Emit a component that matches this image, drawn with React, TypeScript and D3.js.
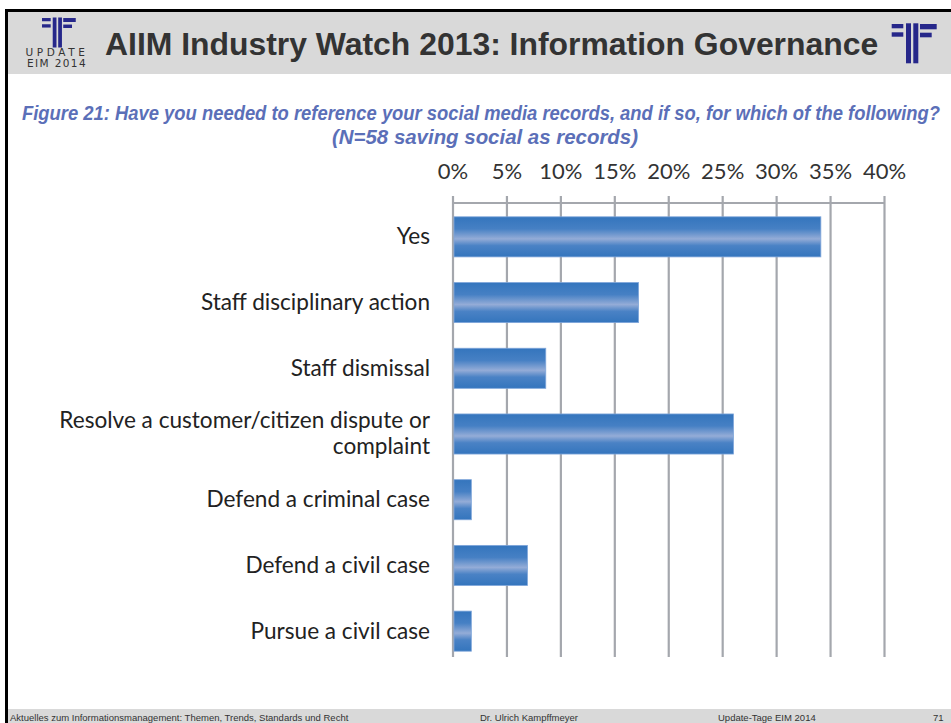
import React from "react";
import * as d3 from "d3";

const categories: string[][] = [
  ["Yes"],
  ["Staff disciplinary action"],
  ["Staff dismissal"],
  ["Resolve a customer/citizen dispute or", "complaint"],
  ["Defend a criminal case"],
  ["Defend a civil case"],
  ["Pursue a civil case"],
];
const values: number[] = [34.1, 17.2, 8.6, 26.0, 1.7, 6.9, 1.7];
const tickValues: number[] = [0, 5, 10, 15, 20, 25, 30, 35, 40];

const titleText = "AIIM Industry Watch 2013: Information Governance";
const subtitleLines = [
  "Figure 21: Have you needed to reference your social media records, and if so, for which of the following?",
  "(N=58 saving social as records)",
];
const footerTexts = [
  "Aktuelles zum Informationsmanagement: Themen, Trends, Standards und Recht",
  "Dr. Ulrich Kampffmeyer",
  "Update-Tage EIM 2014",
  "71",
];

const W = 951;
const H = 723;

function Logo({ x, y, s }: { x: number; y: number; s: number }) {
  const c = "#26278a";
  const r = [
    [0, 0.7, 11.6, 4.3],
    [0, 9, 11.6, 4.4],
    [14.3, 0, 5, 40],
    [21.6, 0, 5, 40],
    [28.3, 0.7, 16.7, 5.3],
    [28.3, 9.4, 11.7, 4.6],
  ];
  return (
    <g transform={`translate(${x},${y}) scale(${s})`}>
      {r.map((d, i) => (
        <rect key={i} x={d[0]} y={d[1]} width={d[2]} height={d[3]} fill={c} />
      ))}
    </g>
  );
}

export default function App() {
  const x = d3.scaleLinear().domain([0, 40]).range([453, 884.5]);
  const y = d3
    .scaleBand<number>()
    .domain(d3.range(categories.length))
    .range([204, 664])
    .paddingInner(0.39)
    .paddingOuter(0.195);

  const labelFont = "Lato, 'Open Sans', sans-serif";
  const gridColor = "#a4a7ad";
  const subFont = "'Liberation Sans', Arial, sans-serif";
  const sx = 0.84;

  return (
    <svg
      width={W}
      height={H}
      style={{ position: "absolute", left: 0, top: 0, background: "#fff" }}
    >
      <defs>
        <linearGradient id="barGrad" x1="0" y1="0" x2="0" y2="1">
          <stop offset="0%" stopColor="#3475bd" />
          <stop offset="30%" stopColor="#4680c4" />
          <stop offset="55%" stopColor="#94acd7" />
          <stop offset="72%" stopColor="#4a82c5" />
          <stop offset="100%" stopColor="#3475bd" />
        </linearGradient>
      </defs>

      {/* frame */}
      <rect x={5} y={9} width={W - 5} height={3} fill="#000" />
      <rect x={5} y={9} width={3} height={H - 9} fill="#000" />
      {/* header */}
      <rect x={8} y={12} width={W - 8} height={62} fill="#d9d9d9" />
      <Logo x={42} y={17.5} s={0.75} />
      <text
        x={57}
        y={56}
        textAnchor="middle"
        fontFamily="'DejaVu Sans', sans-serif"
        fontSize={10.5}
        letterSpacing={3.6}
        fill="#333"
      >
        UPDATE
      </text>
      <text
        x={57}
        y={66.5}
        textAnchor="middle"
        fontFamily="'DejaVu Sans', sans-serif"
        fontSize={10.5}
        letterSpacing={1.4}
        fill="#333"
      >
        EIM 2014
      </text>
      <text
        x={105}
        y={55}
        fontFamily="'Liberation Sans', Arial, sans-serif"
        fontWeight="bold"
        fontSize={31.9}
        fill="#333"
      >
        {titleText}
      </text>
      <Logo x={891.7} y={23.3} s={1} />

      {/* subtitle */}
      <g transform={`translate(22,120) scale(${sx},1)`}>
        <text
          x={0}
          y={0}
          textLength={918 / sx}
          lengthAdjust="spacingAndGlyphs"
          fontFamily={subFont}
          fontStyle="italic"
          fontWeight="bold"
          fontSize={20}
          fill="#5b6fb8"
        >
          {subtitleLines[0]}
        </text>
      </g>
      <g transform={`translate(332,144) scale(${sx},1)`}>
        <text
          x={0}
          y={0}
          textLength={306 / sx}
          lengthAdjust="spacingAndGlyphs"
          fontFamily={subFont}
          fontStyle="italic"
          fontWeight="bold"
          fontSize={20}
          fill="#5b6fb8"
        >
          {subtitleLines[1]}
        </text>
      </g>

      {/* grid + axis */}
      {tickValues.map((t) => (
        <g key={t}>
          <line
            x1={x(t)}
            x2={x(t)}
            y1={196}
            y2={657}
            stroke={gridColor}
            strokeWidth={2.2}
          />
          <text
            x={x(t)}
            y={179}
            textAnchor="middle"
            fontFamily={labelFont}
            fontSize={22}
            fill="#333"
          >
            {t}%
          </text>
        </g>
      ))}
      <line
        x1={x(0)}
        x2={x(40)}
        y1={203}
        y2={203}
        stroke={gridColor}
        strokeWidth={2.2}
      />

      {/* bars */}
      {values.map((v, i) => (
        <rect
          key={i}
          x={x(0) + 1}
          y={y(i)!}
          width={x(v) - x(0) - 1}
          height={y.bandwidth()}
          fill="url(#barGrad)"
          stroke="#7fa6da"
          strokeWidth={0.8}
        />
      ))}

      {/* category labels */}
      {categories.map((lines, i) => {
        const cy = y(i)! + y.bandwidth() / 2;
        const lh = 26;
        const start = cy - ((lines.length - 1) * lh) / 2;
        return lines.map((ln, j) => (
          <text
            key={`${i}-${j}`}
            x={430}
            y={start + j * lh}
            dy="0.33em"
            textAnchor="end"
            fontFamily={labelFont}
            fontSize={22.6}
            fill="#222"
          >
            {ln}
          </text>
        ));
      })}

      {/* footer */}
      <rect x={8} y={709} width={W - 8} height={H - 709} fill="#d9d9d9" />
      {footerTexts.map((t, i) => (
        <text
          key={i}
          x={[10, 480, 718, 933][i]}
          y={721}
          fontFamily="'Liberation Sans', Arial, sans-serif"
          fontSize={9.5}
          fill="#333"
        >
          {t}
        </text>
      ))}
    </svg>
  );
}
